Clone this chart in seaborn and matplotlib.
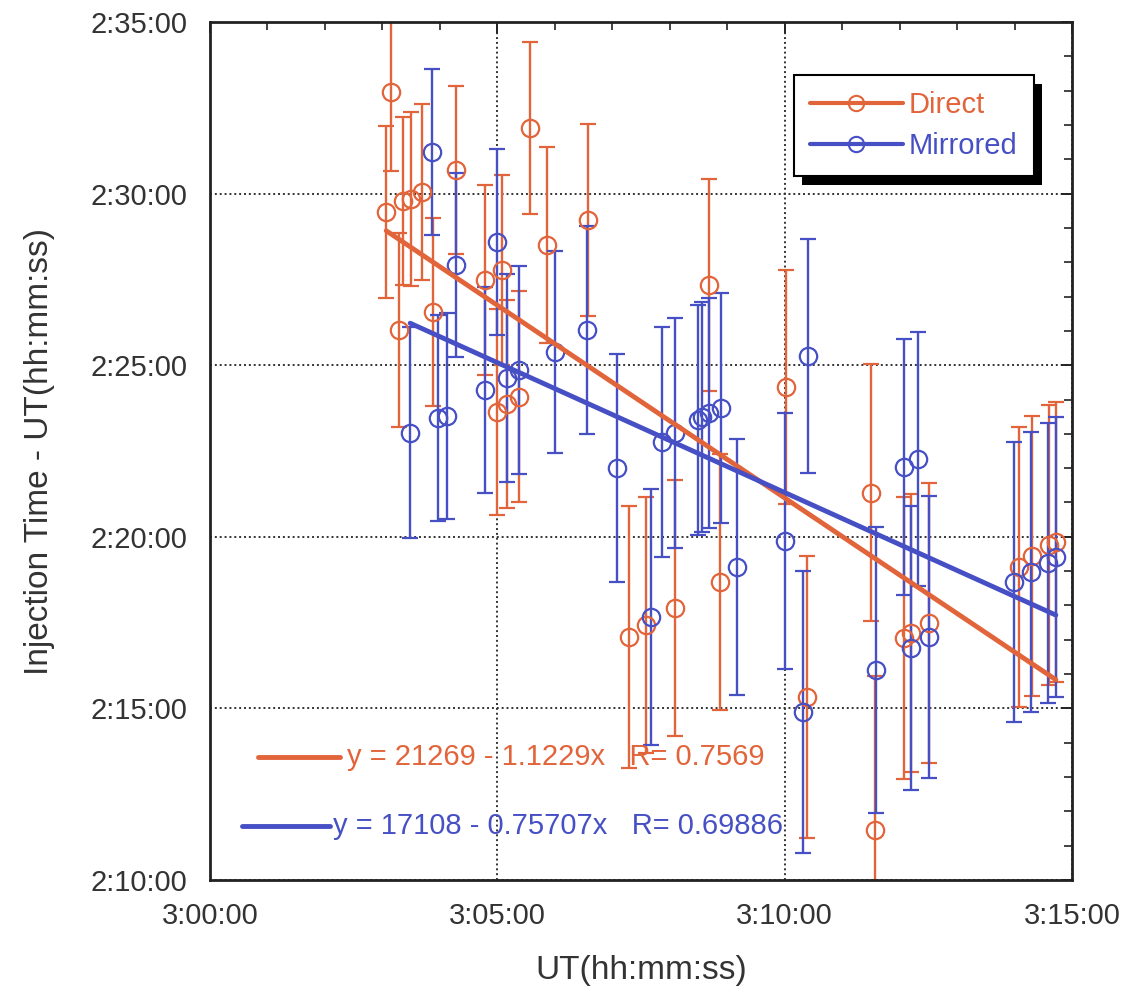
import numpy as np
import matplotlib
matplotlib.use("Agg")
import matplotlib.pyplot as plt
import matplotlib.ticker as mticker
import matplotlib.patheffects as pe
from matplotlib.lines import Line2D
import seaborn as sns

# --- data (seconds since 00:00 UT) ---
direct_ut = [10984, 10989, 10997, 11002, 11010, 11021, 11033, 11057, 11087, 11105,
             11100, 11110, 11123, 11134, 11152, 11195, 11237, 11255, 11285, 11332,
             11321, 11401, 11490, 11423, 11494, 11524, 11532, 11551, 11645, 11658,
             11676, 11683]
direct_inj = [8968, 9178, 8762, 8987, 8991, 9003, 8793, 9041, 8849, 8866,
              8618, 8632, 8645, 9115, 8910, 8954, 8225, 8246, 8276, 8321,
              8840, 8662, 8477, 8120, 7888, 8223, 8232, 8249, 8347, 8367,
              8386, 8391]
direct_err = [150, 138, 170, 147, 152, 154, 164, 147, 166, 166,
              180, 182, 184, 150, 171, 168, 229, 224, 224, 224,
              185, 205, 225, 246, 269, 246, 243, 245, 245, 245,
              245, 245]

mirrored_ut = [11009, 11032, 11038, 11047, 11057, 11087, 11100, 11110, 11123, 11160,
               11194, 11225, 11260, 11272, 11285, 11309, 11314, 11321, 11333, 11350,
               11400, 11424, 11419, 11495, 11525, 11539, 11532, 11551, 11639, 11657,
               11675, 11683]
mirrored_inj = [8582, 9073, 8608, 8611, 8875, 8657, 8915, 8678, 8692, 8723,
                8762, 8520, 8260, 8566, 8582, 8604, 8610, 8617, 8625, 8347,
                8393, 8716, 8094, 8167, 8522, 8536, 8206, 8225, 8321, 8339,
                8354, 8365]
mirrored_err = [184, 145, 180, 180, 161, 180, 163, 182, 182, 177,
                182, 199, 224, 201, 201, 201, 201, 201, 201, 224,
                224, 205, 246, 250, 224, 222, 248, 246, 245, 245,
                245, 245]

# linear fits as printed on the chart
direct_fit = (21269, -1.1229, 0.7569)
mirrored_fit = (17108, -0.75707, 0.69886)

x_ticks = [10800, 11100, 11400, 11700]
y_ticks = [7800, 8100, 8400, 8700, 9000, 9300]

ORANGE = '#E2643A'
BLUE = '#4650C4'


def hms(v, pos=None):
    v = int(round(v))
    return f"{v // 3600}:{(v % 3600) // 60:02d}:{v % 60:02d}"


sns.set_theme(style="white")
plt.rcParams['font.family'] = ['Liberation Sans', 'DejaVu Sans']

fig = plt.figure(figsize=(11.27, 10.01), dpi=100)
ax = fig.add_axes([0.1863, 0.1209, 0.765, 0.8571])

for xs, ys, es, col in [(direct_ut, direct_inj, direct_err, ORANGE),
                        (mirrored_ut, mirrored_inj, mirrored_err, BLUE)]:
    ax.errorbar(xs, ys, yerr=es, fmt='o', mfc='none', mec=col, mew=1.6, ms=12.5,
                ecolor=col, elinewidth=1.7, capsize=6, capthick=1.7, zorder=2)

# fit lines
for xs, (a, b, r), col in [(direct_ut, direct_fit, ORANGE), (mirrored_ut, mirrored_fit, BLUE)]:
    fx = np.array([min(xs), max(xs)])
    sns.lineplot(x=fx, y=a + b * fx, ax=ax, color=col, lw=3.5, zorder=3)

ax.set_xlim(10800, 11700)
ax.set_ylim(7800, 9300)
ax.xaxis.set_major_locator(mticker.FixedLocator(x_ticks))
ax.yaxis.set_major_locator(mticker.FixedLocator(y_ticks))
ax.xaxis.set_minor_locator(mticker.MultipleLocator(60))
ax.yaxis.set_minor_locator(mticker.MultipleLocator(60))
ax.xaxis.set_major_formatter(mticker.FuncFormatter(hms))
ax.yaxis.set_major_formatter(mticker.FuncFormatter(hms))

ax.grid(True, which='major', color='#333333', linestyle=(0, (1, 1.5)), lw=1.4)
ax.tick_params(which='both', direction='in', top=True, right=True, colors='#222222',
               labelcolor='#333333')
ax.tick_params(which='major', length=8, width=1.4, labelsize=21, pad=16)
ax.tick_params(which='minor', length=6, width=1.2)
for s in ax.spines.values():
    s.set_color('#222222')
    s.set_linewidth(2)

ax.set_xlabel('UT(hh:mm:ss)', fontsize=24, color='#333333', labelpad=18)
ax.set_ylabel('Injection Time - UT(hh:mm:ss)', fontsize=24, color='#333333', labelpad=26)

# legend
handles = [Line2D([], [], color=ORANGE, lw=3, marker='o', mfc='none', mec=ORANGE, ms=11, mew=1.5),
           Line2D([], [], color=BLUE, lw=3, marker='o', mfc='none', mec=BLUE, ms=11, mew=1.5)]
leg = ax.legend(handles, ['Direct', 'Mirrored'], loc='upper left', bbox_to_anchor=(0.677, 0.938),
                borderaxespad=0, fontsize=21, handlelength=3.2, handletextpad=0.2,
                frameon=True, fancybox=False, edgecolor='black', framealpha=1,
                borderpad=0.55, labelspacing=0.45)
leg.get_frame().set_linewidth(1.5)
leg.get_frame().set_path_effects([pe.withSimplePatchShadow(offset=(6, -6), shadow_rgbFace='black', alpha=1)])
for t, c in zip(leg.get_texts(), [ORANGE, BLUE]):
    t.set_color(c)

# fit equations
ax.plot([0.056, 0.151], [0.143, 0.143], transform=ax.transAxes, color=ORANGE, lw=3.5)
ax.text(0.159, 0.143, f"y = {direct_fit[0]} - {abs(direct_fit[1])}x   R= {direct_fit[2]}",
        transform=ax.transAxes, color=ORANGE, fontsize=21, va='center')
ax.plot([0.037, 0.139], [0.063, 0.063], transform=ax.transAxes, color=BLUE, lw=3.5)
ax.text(0.143, 0.063, f"y = {mirrored_fit[0]} - {abs(mirrored_fit[1])}x   R= {mirrored_fit[2]}",
        transform=ax.transAxes, color=BLUE, fontsize=21, va='center')

fig.savefig('out.png', dpi=100)
